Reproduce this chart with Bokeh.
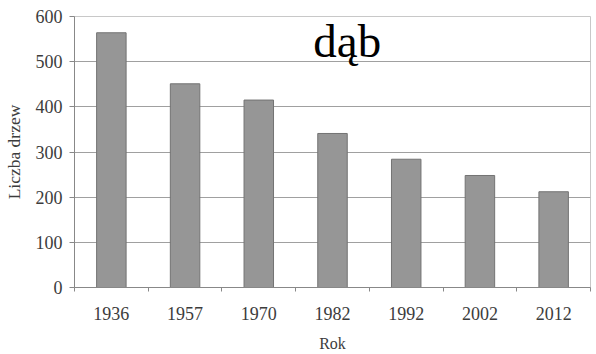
from bokeh.plotting import figure
from bokeh.models import ColumnDataSource, FixedTicker, Label, Range1d
from bokeh.embed import file_html
from bokeh.resources import INLINE

years = ["1936", "1957", "1970", "1982", "1992", "2002", "2012"]
trees = [564, 451, 415, 341, 284, 248, 212]
y_ticks = [0, 100, 200, 300, 400, 500, 600]
title_text = "dąb"
x_label = "Rok"
y_label = "Liczba drzew"

n = len(years)
centers = [i + 0.5 for i in range(n)]
src = ColumnDataSource(dict(x=centers, top=trees, year=years))

FONT = "Liberation Serif"

p = figure(width=596, height=354, output_backend="svg", toolbar_location=None,
           x_range=Range1d(0, n), y_range=Range1d(0, 600),
           min_border_left=74, min_border_right=6, min_border_top=16, min_border_bottom=66)
p.background_fill_color = "white"
p.border_fill_color = "white"
p.outline_line_color = "#c8c8c8"
p.outline_line_width = 1

p.vbar(x="x", top="top", width=0.4, bottom=0, source=src,
       fill_color="#969696", line_color="#737373", line_width=1)

# x axis
xa = p.xaxis[0]
xa.ticker = FixedTicker(ticks=centers, minor_ticks=list(range(n + 1)))
xa.major_label_overrides = {c: y for c, y in zip(centers, years)}
xa.major_tick_out = 0
xa.major_tick_in = 0
xa.minor_tick_out = 4
xa.minor_tick_in = 0
xa.minor_tick_line_color = "#888888"
xa.axis_line_color = "#888888"
xa.major_label_text_font = FONT
xa.major_label_text_font_style = "normal"
xa.major_label_text_font_size = "18px"
xa.major_label_text_color = "#3c3c3c"
xa.major_label_standoff = 15
xa.axis_label = x_label
xa.axis_label_text_font = FONT
xa.axis_label_text_font_size = "16px"
xa.axis_label_text_font_style = "normal"
xa.axis_label_text_color = "#3c3c3c"
xa.axis_label_standoff = 12

# y axis
ya = p.yaxis[0]
ya.ticker = FixedTicker(ticks=y_ticks)
ya.minor_tick_line_color = None
ya.major_tick_out = 5
ya.major_tick_in = 0
ya.major_tick_line_color = "#888888"
ya.axis_line_color = "#888888"
ya.major_label_text_font = FONT
ya.major_label_text_font_style = "normal"
ya.major_label_text_font_size = "18px"
ya.major_label_text_color = "#3c3c3c"
ya.major_label_standoff = 7
ya.axis_label = y_label
ya.axis_label_text_font = FONT
ya.axis_label_text_font_size = "17.5px"
ya.axis_label_text_font_style = "normal"
ya.axis_label_text_color = "#3c3c3c"
ya.axis_label_standoff = 9

p.xgrid.grid_line_color = None
p.ygrid.ticker = FixedTicker(ticks=y_ticks)
p.ygrid.grid_line_color = "#a0a0a0"
p.ygrid.grid_line_width = 1

p.add_layout(Label(x=3.24, y=546, text=title_text, text_font=FONT,
                   text_font_style="normal",
                   text_font_size="47px", text_color="black",
                   text_baseline="alphabetic", text_align="left"))

open("out.html", "w").write(file_html(p, INLINE))
